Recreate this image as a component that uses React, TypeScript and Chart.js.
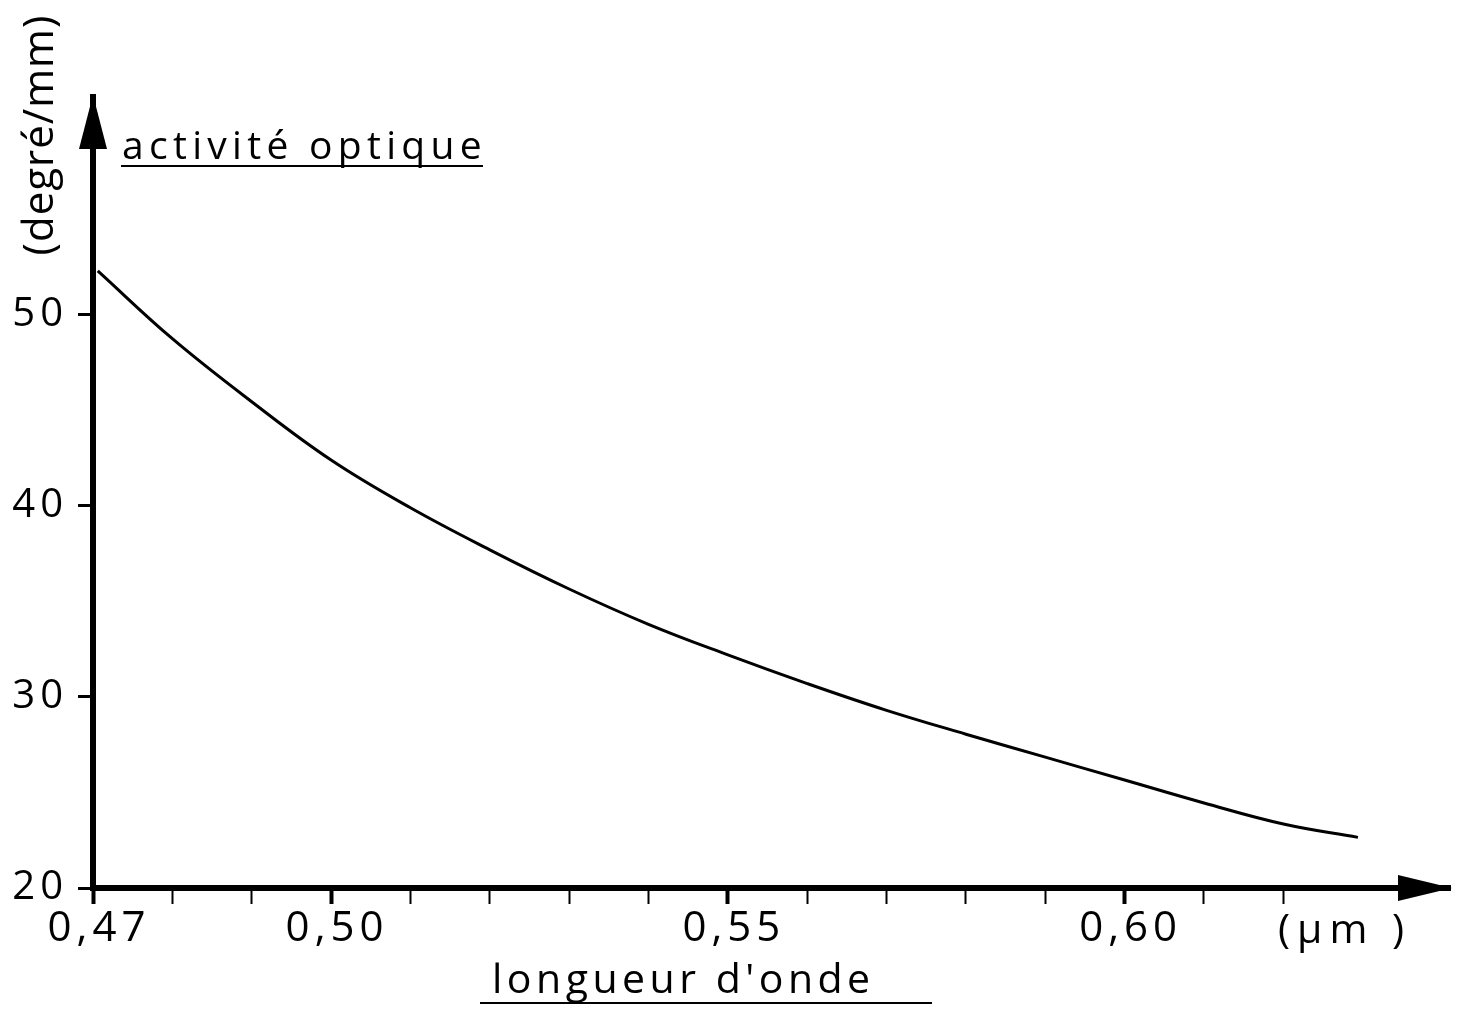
import React, { useEffect, useRef } from "react";
import { Chart, registerables } from "chart.js";

Chart.register(...registerables);

// Data
const wavelength = [0.4706, 0.48, 0.49, 0.5, 0.51, 0.52, 0.53, 0.54, 0.55, 0.56, 0.57, 0.58, 0.59, 0.6, 0.61, 0.62, 0.6294];
const activity = [52.3, 48.75, 45.45, 42.4, 39.9, 37.7, 35.65, 33.8, 32.2, 30.7, 29.3, 28.05, 26.85, 25.65, 24.45, 23.35, 22.65];

const xTickValues = [0.47, 0.48, 0.49, 0.5, 0.51, 0.52, 0.53, 0.54, 0.55, 0.56, 0.57, 0.58, 0.59, 0.6, 0.61, 0.62];
const xLabeledValues = [0.47, 0.5, 0.55, 0.6];
const yTickValues = [20, 30, 40, 50];

const yTitle = "(degré/mm)";
const yName = "activité optique";
const xName = "longueur d'onde";
const xUnit = "(µm )";

const FONT = "'Open Sans', 'DejaVu Sans', sans-serif";

const isLabeled = (v: number) => xLabeledValues.some((l) => Math.abs(l - v) < 1e-6);

const spacing = {
  id: "spacing",
  beforeDraw(chart: any) {
    (chart.ctx as any).letterSpacing = "5px";
  },
};

const arrowsAndTitles = {
  id: "arrowsAndTitles",
  afterDraw(chart: any) {
    const { ctx, chartArea } = chart;
    const { left, right, top, bottom } = chartArea;
    ctx.save();
    ctx.fillStyle = "#000";
    // y arrowhead
    ctx.beginPath();
    ctx.moveTo(left, top - 2);
    ctx.lineTo(left - 14, top + 52);
    ctx.lineTo(left + 14, top + 52);
    ctx.closePath();
    ctx.fill();
    // x arrowhead
    ctx.beginPath();
    ctx.moveTo(right + 2, bottom);
    ctx.lineTo(right - 52, bottom - 13);
    ctx.lineTo(right - 52, bottom + 13);
    ctx.closePath();
    ctx.fill();

    ctx.textBaseline = "alphabetic";
    ctx.fillStyle = "#000";
    ctx.strokeStyle = "#000";
    ctx.lineWidth = 2;

    // "activité optique"
    ctx.font = `39px ${FONT}`;
    (ctx as any).letterSpacing = "5.3px";
    ctx.textAlign = "left";
    ctx.fillText(yName, left + 29, 159);
    ctx.beginPath();
    ctx.moveTo(left + 28, 166);
    ctx.lineTo(483, 166);
    ctx.stroke();

    // "(degré/mm)" rotated
    ctx.save();
    ctx.translate(53, 135);
    ctx.rotate(-Math.PI / 2);
    ctx.textAlign = "center";
    ctx.font = `42px ${FONT}`;
    (ctx as any).letterSpacing = "1px";
    ctx.fillText(yTitle, 0, 0);
    ctx.restore();

    // "longueur d'onde"
    ctx.font = `41px ${FONT}`;
    (ctx as any).letterSpacing = "4.5px";
    ctx.textAlign = "left";
    ctx.fillText(xName, 492, 993);
    ctx.beginPath();
    ctx.moveTo(480, 1003);
    ctx.lineTo(932, 1003);
    ctx.stroke();

    // unit
    ctx.font = `41px ${FONT}`;
    (ctx as any).letterSpacing = "7px";
    ctx.fillText(xUnit, 1278, 943);
    ctx.restore();
  },
};

export default function App() {
  const ref = useRef<HTMLCanvasElement | null>(null);

  useEffect(() => {
    document.body.style.margin = "0";
    const canvas = ref.current;
    if (!canvas) return;
    const chart = new Chart(canvas, {
      type: "scatter",
      data: {
        datasets: [
          {
            data: wavelength.map((x, i) => ({ x, y: activity[i] })),
            showLine: true,
            borderColor: "#000",
            borderWidth: 3,
            pointRadius: 0,
            tension: 0.4,
          },
        ],
      },
      options: {
        animation: false,
        responsive: true,
        maintainAspectRatio: false,
        layout: { padding: { top: 97, right: 12, left: 0, bottom: 0 } },
        plugins: { legend: { display: false }, tooltip: { enabled: false } },
        scales: {
          x: {
            type: "linear",
            min: 0.47,
            max: 0.641,
            afterBuildTicks: (s: any) => {
              s.ticks = xTickValues.map((v) => ({ value: v }));
            },
            afterFit: (s: any) => {
              s.height = 132;
            },
            border: { display: true, color: "#000", width: 6 },
            grid: {
              drawOnChartArea: false,
              drawTicks: true,
              tickLength: 16,
              tickColor: "#000",
              tickWidth: (c: any) => (c.tick && isLabeled(c.tick.value) ? 4 : 2),
            },
            ticks: {
              autoSkip: false,
              maxRotation: 0,
              padding: 0,
              labelOffset: 6,
              color: "#000",
              font: { family: FONT, size: 42 },
              callback: (v: any) => (isLabeled(Number(v)) ? Number(v).toFixed(2).replace(".", ",") : ""),
            },
          },
          y: {
            type: "linear",
            min: 20,
            max: 61.4,
            afterBuildTicks: (s: any) => {
              s.ticks = yTickValues.map((v) => ({ value: v }));
            },
            afterFit: (s: any) => {
              s.width = 93;
            },
            border: { display: true, color: "#000", width: 6 },
            grid: {
              drawOnChartArea: false,
              drawTicks: true,
              tickLength: 15,
              tickColor: "#000",
              tickWidth: 3,
            },
            ticks: {
              padding: 10,
              color: "#000",
              font: { family: FONT, size: 40 },
              callback: (v: any) => String(v),
            },
          },
        },
      },
      plugins: [spacing, arrowsAndTitles],
    } as any);
    return () => chart.destroy();
  }, []);

  return (
    <div style={{ position: "fixed", left: 0, top: 0, width: 1462, height: 1020, background: "#fff" }}>
      <canvas ref={ref} />
    </div>
  );
}
